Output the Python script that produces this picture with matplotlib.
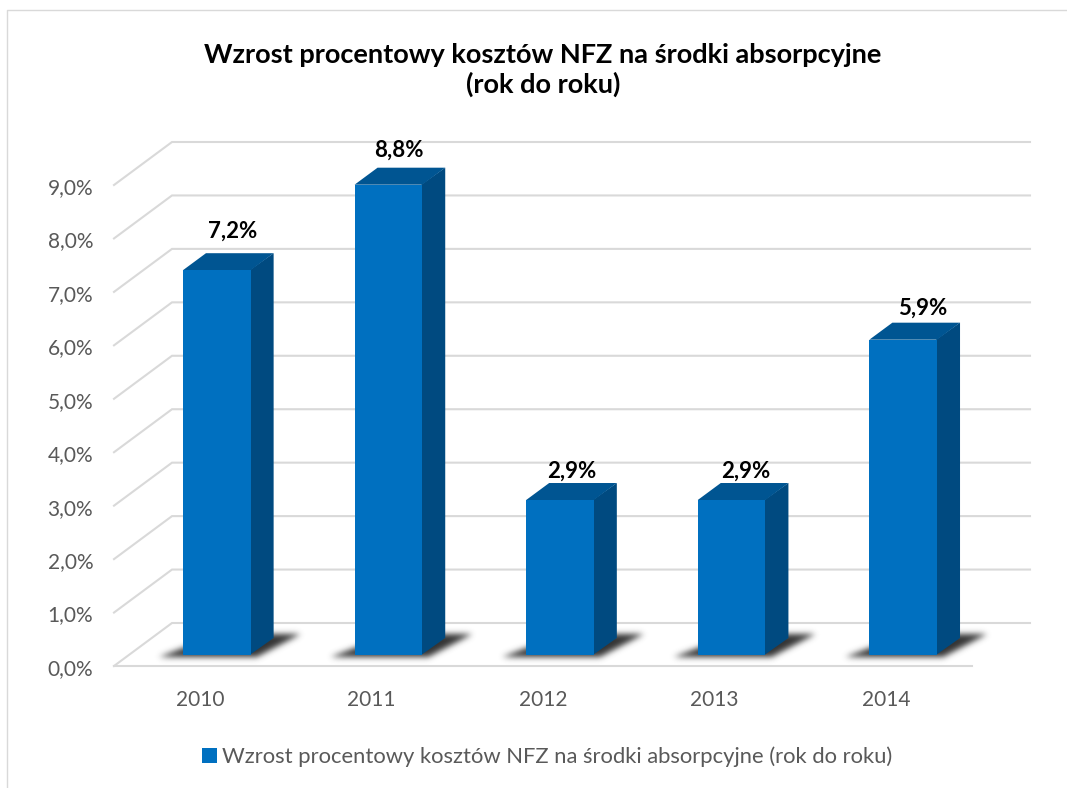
import matplotlib
matplotlib.use("Agg")
import matplotlib.pyplot as plt
import numpy as np
from matplotlib.lines import Line2D
from matplotlib.patches import Polygon
from matplotlib.transforms import Affine2D

# Data
years = ["2010", "2011", "2012", "2013", "2014"]
growth = [7.2, 8.8, 2.9, 2.9, 5.9]
y_ticks = [0, 1, 2, 3, 4, 5, 6, 7, 8, 9]
y_tick_labels = ["0,0%", "1,0%", "2,0%", "3,0%", "4,0%", "5,0%", "6,0%", "7,0%", "8,0%", "9,0%"]
value_labels = ["7,2%", "8,8%", "2,9%", "2,9%", "5,9%"]
title = "Wzrost procentowy kosztów NFZ na środki absorpcyjne\n(rok do roku)"
legend_label = "Wzrost procentowy kosztów NFZ na środki absorpcyjne (rok do roku)"

# Style and layout (pixels)
W, H = 1067, 788
L, R, B, T = 114, 972, 666, 185
WALL_DX, WALL_DY = 58, 43
BAR_DX, BAR_DY = 17, 11
DEPTH_DX, DEPTH_DY = 23, 17
BAR_W_PX = 68
LABEL_DX = [16, 10, 12, 14, 19]
LABEL_DY = [22, 17, 12, 12, 14]
GRID = "#d9d9d9"
FRONT, SIDE, TOP = "#0070c0", "#004a80", "#005592"
TEXT = "#595959"
plt.rcParams["font.family"] = ["Lato", "DejaVu Sans"]

fig = plt.figure(figsize=(W / 100, H / 100), dpi=100)
ax = fig.add_axes([L / W, 1 - B / H, (R - L) / W, (B - T) / H])
ax.set_xlim(-0.5, 4.5)
ax.set_ylim(0, 9)
for s in ax.spines.values():
    s.set_visible(False)
ax.patch.set_alpha(0)

def pxx(p):
    return p * 5 / (R - L)

def pxy(p):
    return p * 9 / (B - T)

def soft_edges(image, dpi, sigma=3.0):
    """Gaussian blur for the drop shadow drawn on the floor."""
    pad = int(sigma * 4)
    a = np.pad(image, ((pad, pad), (pad, pad), (0, 0)))
    k = np.exp(-0.5 * (np.arange(-pad, pad + 1) / sigma) ** 2)
    k /= k.sum()
    alpha = a[:, :, 3]
    alpha = np.apply_along_axis(lambda r: np.convolve(r, k, mode="same"), 0, alpha)
    alpha = np.apply_along_axis(lambda r: np.convolve(r, k, mode="same"), 1, alpha)
    a[:, :, :3] = 0.2
    a[:, :, 3] = alpha
    return a, -pad, -pad

# Wall and floor gridlines
lw = 1.5
for v in y_ticks:
    x0 = -0.5
    x1 = x0 + pxx(WALL_DX)
    y1 = v + pxy(WALL_DY)
    ax.plot([x0, x1, 4.5 + pxx(WALL_DX)], [v, y1, y1], color=GRID, lw=lw,
            clip_on=False, solid_joinstyle="miter", zorder=1)
ax.plot([-0.5, 4.5], [0, 0], color=GRID, lw=lw, clip_on=False, zorder=1)

shift = ax.transData + Affine2D().translate(BAR_DX, BAR_DY)
bw = pxx(BAR_W_PX) * 0.995

# Floor shadows
for i, v in enumerate(growth):
    xl, xr = i - bw / 2, i + bw / 2
    verts = [(xl - pxx(24), pxy(-2)), (xr + pxx(6), pxy(-2)),
             (xr + pxx(50), pxy(21)), (xr - pxx(30), pxy(21))]
    p = Polygon(verts, closed=True, facecolor="#333333", edgecolor="none",
                transform=shift, clip_on=False, zorder=2)
    p.set_agg_filter(soft_edges)
    ax.add_patch(p)

# Bars
bars = ax.bar(range(len(years)), growth, width=bw, color=FRONT, transform=shift,
              clip_on=False, zorder=4, label=legend_label)
ddx, ddy = pxx(DEPTH_DX), pxy(DEPTH_DY)
seam = pxx(1)
for i, v in enumerate(growth):
    xl, xr = i - bw / 2, i + bw / 2
    ax.add_patch(Polygon([(xr - seam, 0), (xr + ddx, ddy), (xr + ddx, v + ddy), (xr - seam, v)], closed=True,
                         facecolor=SIDE, edgecolor="none", transform=shift, clip_on=False, zorder=3))
    ax.add_patch(Polygon([(xl, v), (xl + ddx, v + ddy), (xr + ddx, v + ddy), (xr, v)], closed=True,
                         facecolor=TOP, edgecolor="none", transform=shift, clip_on=False, zorder=3))
    ax.text(i + pxx(BAR_DX + LABEL_DX[i]), v + pxy(BAR_DY + DEPTH_DY + LABEL_DY[i]), value_labels[i],
            ha="center", va="center", fontsize=16, fontweight="bold", color="black", zorder=6)

# Axis ticks
ax.set_xticks(range(len(years)), years)
ax.set_yticks(y_ticks, y_tick_labels)
ax.tick_params(axis="both", length=0, labelsize=15, labelcolor=TEXT)
ax.tick_params(axis="x", pad=17)
ax.tick_params(axis="y", pad=15)
for lab in ax.get_yticklabels():
    lab.set_transform(lab.get_transform() + Affine2D().translate(0, -1))

# Title
fig.text(543 / W, 1 - 70 / H, title, ha="center", va="center", fontsize=19.5, fontweight="bold",
         color="black", linespacing=1.25)

# Legend
fig.legend(handles=[bars], labels=[legend_label], loc="center", bbox_to_anchor=(547.5 / W, 1 - 757 / H),
           frameon=False, fontsize=15.8, labelcolor=TEXT, handlelength=0.65, handleheight=0.65,
           handletextpad=0.25)

# Chart frame
fig.add_artist(Line2D([7 / W, 7 / W, 1], [0, 1 - 10 / H, 1 - 10 / H], color=GRID, lw=1.0,
                      transform=fig.transFigure))

fig.savefig("out.png", dpi=100, facecolor="white")
